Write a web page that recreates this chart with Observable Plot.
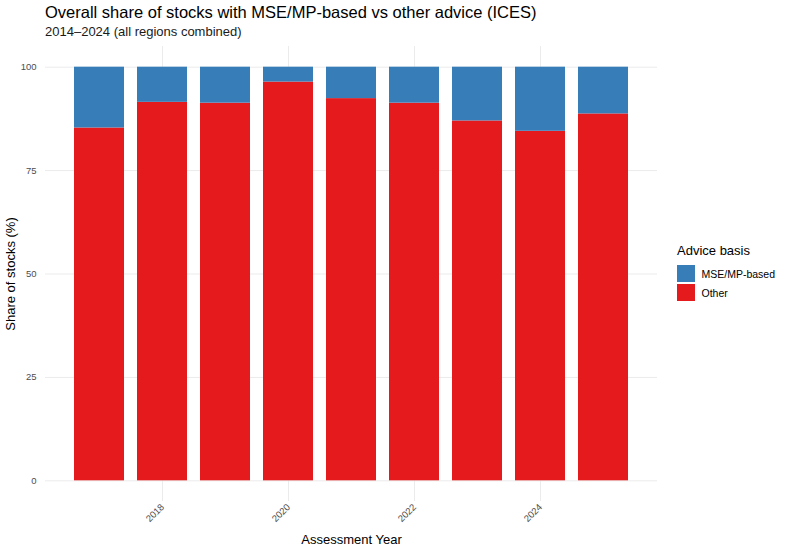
<!DOCTYPE html>
<html>
<head>
<meta charset="utf-8">
<script src="https://cdn.jsdelivr.net/npm/d3@7"></script>
<script src="https://cdn.jsdelivr.net/npm/@observablehq/plot@0.6"></script>
<style>
  html, body { margin: 0; padding: 0; background: #fff; }
  #wrap { position: relative; width: 788px; height: 550px; font-family: "Liberation Sans", Arial, sans-serif; overflow: hidden; }
  #header { position: relative; height: 40px; }
  #title { position: absolute; left: 45px; top: 4px; font-size: 16.5px; line-height: 16.5px; color: #000; white-space: nowrap; }
  #subtitle { position: absolute; left: 45px; top: 25px; font-size: 13px; line-height: 13px; color: #1a1a1a; white-space: nowrap; }
  #legend { position: absolute; left: 677px; top: 244px; color: #000; }
  #legend .ltitle { font-size: 13px; line-height: 13px; height: 20px; }
  #legend .row { display: flex; align-items: center; height: 19px; }
  #legend .sw { width: 17.5px; height: 17.5px; margin-right: 7px; }
  #legend .lab { font-size: 10.5px; }
</style>
</head>
<body>
<div id="wrap">
  <div id="header">
    <div id="title">Overall share of stocks with MSE/MP-based vs other advice (ICES)</div>
    <div id="subtitle">2014–2024 (all regions combined)</div>
  </div>
  <div id="chart"></div>
  <div id="legend"></div>
</div>
<script>
const years = [2017, 2018, 2019, 2020, 2021, 2022, 2023, 2024, 2025];
const otherShare = [85.3, 91.5, 91.3, 96.4, 92.4, 91.3, 87.0, 84.5, 88.7];
const mseShare = [14.7, 8.5, 8.7, 3.6, 7.6, 8.7, 13.0, 15.5, 11.3];
const categories = ["MSE/MP-based", "Other"];
const colors = ["#377EB8", "#E41A1C"];
const xTicks = [2018, 2020, 2022, 2024];
const yTicks = [0, 25, 50, 75, 100];

const rows = [];
years.forEach((yr, i) => {
  rows.push({year: yr, basis: "Other", share: otherShare[i]});
  rows.push({year: yr, basis: "MSE/MP-based", share: mseShare[i]});
});

const chart = Plot.plot({
  width: 788,
  height: 510,
  marginLeft: 45,
  marginRight: 131,
  marginTop: 6,
  marginBottom: 49,
  style: {fontFamily: '"Liberation Sans", Arial, sans-serif', fontSize: "9.5px", color: "#4D4D4D", background: "#fff"},
  x: {type: "band", domain: years, paddingInner: 0.21, paddingOuter: 0.438, align: 0.5},
  y: {domain: [-5, 105]},
  color: {domain: categories, range: colors},
  marks: [
    Plot.gridY(yTicks, {stroke: "#EBEBEB", strokeOpacity: 1, strokeWidth: 1}),
    Plot.gridX(xTicks, {stroke: "#EBEBEB", strokeOpacity: 1, strokeWidth: 1}),
    Plot.barY(rows, {x: "year", y: "share", fill: "basis", order: ["Other", "MSE/MP-based"]}),
    Plot.axisX(xTicks, {tickSize: 0, tickPadding: 4, tickRotate: -45, tickFormat: d => String(d), fill: "#4D4D4D", label: "Assessment Year", labelAnchor: "center", labelArrow: "none", labelOffset: 42}),
    Plot.axisY(yTicks, {tickSize: 0, tickPadding: 9, tickFormat: d => String(d), fill: "#4D4D4D", label: "Share of stocks (%)", labelAnchor: "center", labelArrow: "none", labelOffset: 40})
  ]
});
document.getElementById("chart").appendChild(chart);

d3.select(chart).selectAll('[aria-label="x-axis label"] text, [aria-label="y-axis label"] text')
  .style("font-size", "13px").attr("fill", "#000")
  .each(function() {
    const t = this.textContent.replace(/\s*[↑→↓←]\s*/g, "").trim();
    this.textContent = t;
  });

const legend = d3.select("#legend");
legend.append("div").attr("class", "ltitle").text("Advice basis");
categories.forEach((c, i) => {
  const r = legend.append("div").attr("class", "row");
  r.append("div").attr("class", "sw").style("background", colors[i]);
  r.append("div").attr("class", "lab").text(c);
});
</script>
</body>
</html>
